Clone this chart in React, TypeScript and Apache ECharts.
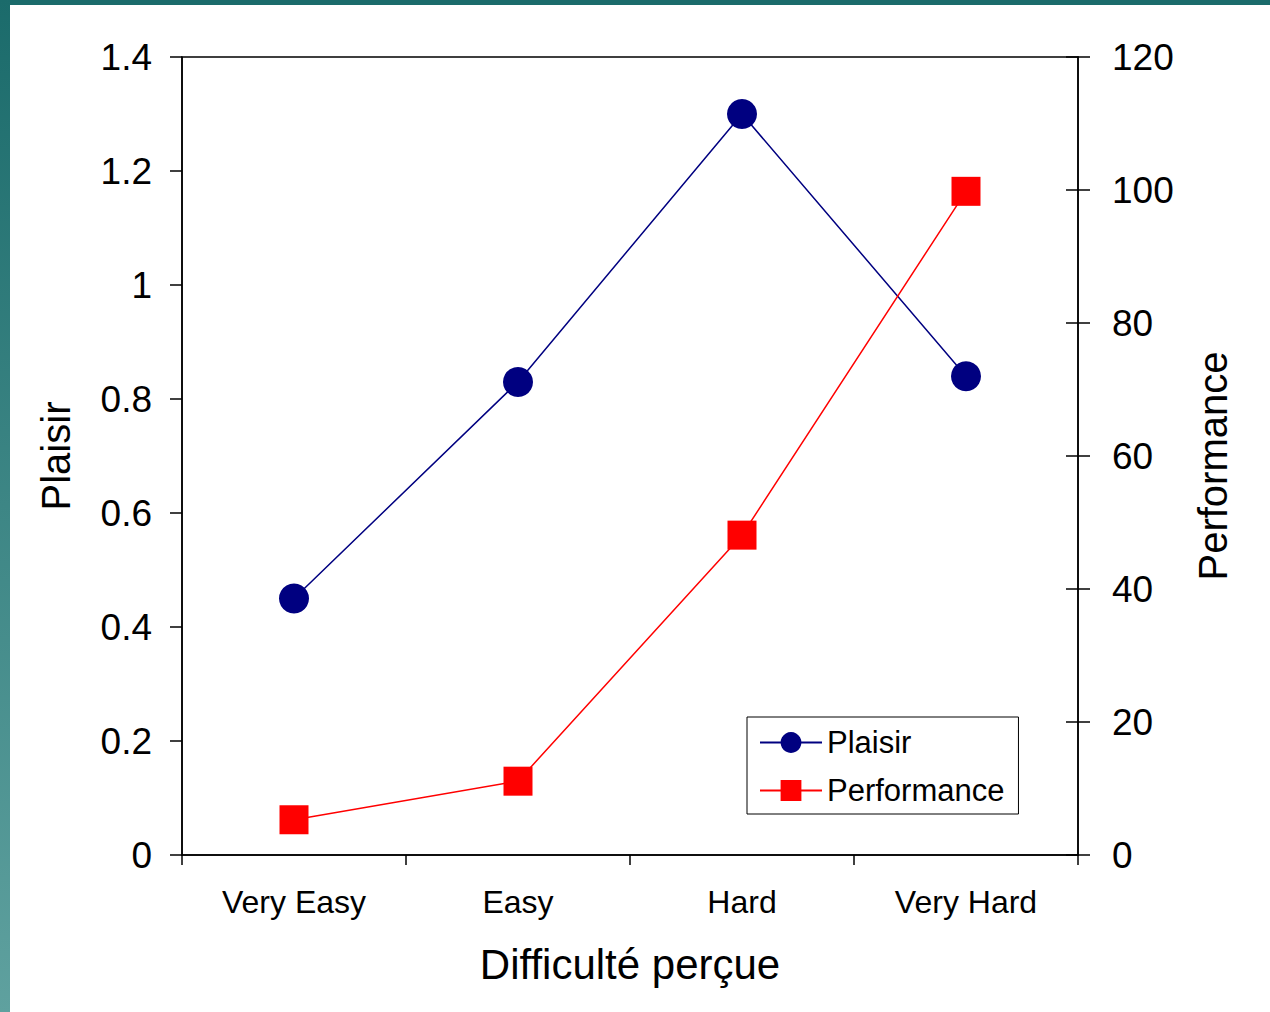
import React, { useEffect, useRef } from "react";
import * as echarts from "echarts";

const categories = ["Very Easy", "Easy", "Hard", "Very Hard"];
const plaisir = [0.45, 0.83, 1.3, 0.84];
const performance = [5.3, 11.1, 48.1, 99.8];
const leftAxis = { min: 0, max: 1.4, interval: 0.2 };
const rightAxis = { min: 0, max: 120, interval: 20 };

const FONT = "'Liberation Sans', Arial, sans-serif";

export default function App() {
  const ref = useRef<HTMLDivElement>(null);
  useEffect(() => {
    if (!ref.current) return;
    const chart = echarts.init(ref.current, undefined, { renderer: "svg" });
    const axisLineStyle = { color: "#000", width: 1.5 };
    chart.setOption({
      animation: false,
      backgroundColor: "#fff",
      textStyle: { fontFamily: FONT, color: "#000" },
      graphic: [
        {
          type: "rect",
          shape: { x: 0, y: 0, width: 1270, height: 5 },
          style: { fill: "#1b6b6b" },
          silent: true,
        },
        {
          type: "rect",
          shape: { x: 0, y: 0, width: 10, height: 1012 },
          style: {
            fill: new echarts.graphic.LinearGradient(0, 0, 0, 1, [
              { offset: 0, color: "#1b6b6b" },
              { offset: 1, color: "#5fa19f" },
            ]),
          },
          silent: true,
        },
      ],
      grid: {
        left: 182,
        right: 192,
        top: 57,
        bottom: 157,
        show: true,
        borderColor: "#000",
        borderWidth: 1.5,
        backgroundColor: "transparent",
      },
      legend: {
        orient: "vertical",
        left: 747,
        top: 717,
        padding: [10, 14, 8, 12],
        itemWidth: 62,
        itemHeight: 26,
        itemGap: 17,
        borderColor: "#000",
        borderWidth: 1,
        backgroundColor: "#fff",
        textStyle: { fontFamily: FONT, fontSize: 31, color: "#000" },
        data: ["Plaisir", "Performance"],
      },
      xAxis: {
        type: "category",
        data: categories,
        boundaryGap: true,
        name: "Difficulté perçue",
        nameLocation: "middle",
        nameGap: 88,
        nameTextStyle: { fontFamily: FONT, fontSize: 42, color: "#000" },
        axisLine: { lineStyle: axisLineStyle },
        axisTick: { show: true, length: 10, inside: false, lineStyle: { color: "#000", width: 1.5 } },
        axisLabel: { fontFamily: FONT, fontSize: 32, color: "#000", margin: 31 },
        splitLine: { show: false },
      },
      yAxis: [
        {
          type: "value",
          position: "left",
          min: leftAxis.min,
          max: leftAxis.max,
          interval: leftAxis.interval,
          name: "Plaisir",
          nameLocation: "middle",
          nameRotate: 90,
          nameGap: 106,
          nameTextStyle: { fontFamily: FONT, fontSize: 40, color: "#000" },
          axisLine: { show: true, lineStyle: axisLineStyle },
          axisTick: { show: true, length: 12, inside: false, lineStyle: { color: "#000", width: 1.5 } },
          axisLabel: { fontFamily: FONT, fontSize: 37, color: "#000", margin: 30 },
          splitLine: { show: false },
        },
        {
          type: "value",
          position: "right",
          min: rightAxis.min,
          max: rightAxis.max,
          interval: rightAxis.interval,
          name: "Performance",
          nameLocation: "middle",
          nameRotate: 90,
          nameGap: 115,
          nameTextStyle: { fontFamily: FONT, fontSize: 40, color: "#000", padding: [0, 20, 0, 0] },
          axisLine: { show: true, lineStyle: axisLineStyle },
          axisTick: { show: true, length: 12, inside: false, lineStyle: { color: "#000", width: 1.5 } },
          axisLabel: { fontFamily: FONT, fontSize: 37, color: "#000", margin: 34 },
          splitLine: { show: false },
        },
        {
          type: "value",
          position: "right",
          min: rightAxis.min,
          max: rightAxis.max,
          interval: rightAxis.interval,
          axisLine: { show: false },
          axisTick: { show: true, length: 12, inside: true, lineStyle: { color: "#000", width: 1.5 } },
          axisLabel: { show: false },
          splitLine: { show: false },
        },
      ],
      series: [
        {
          name: "Plaisir",
          type: "line",
          yAxisIndex: 0,
          data: plaisir,
          symbol: "circle",
          symbolSize: 30,
          lineStyle: { color: "#000080", width: 1.5 },
          itemStyle: { color: "#000080" },
          z: 3,
        },
        {
          name: "Performance",
          type: "line",
          yAxisIndex: 1,
          data: performance,
          symbol: "rect",
          symbolSize: 29,
          lineStyle: { color: "#ff0000", width: 1.5 },
          itemStyle: { color: "#ff0000" },
          z: 3,
        },
      ],
    });
    return () => chart.dispose();
  }, []);
  return (
    <div
      ref={ref}
      style={{ position: "fixed", left: 0, top: 0, width: 1270, height: 1012 }}
    />
  );
}
